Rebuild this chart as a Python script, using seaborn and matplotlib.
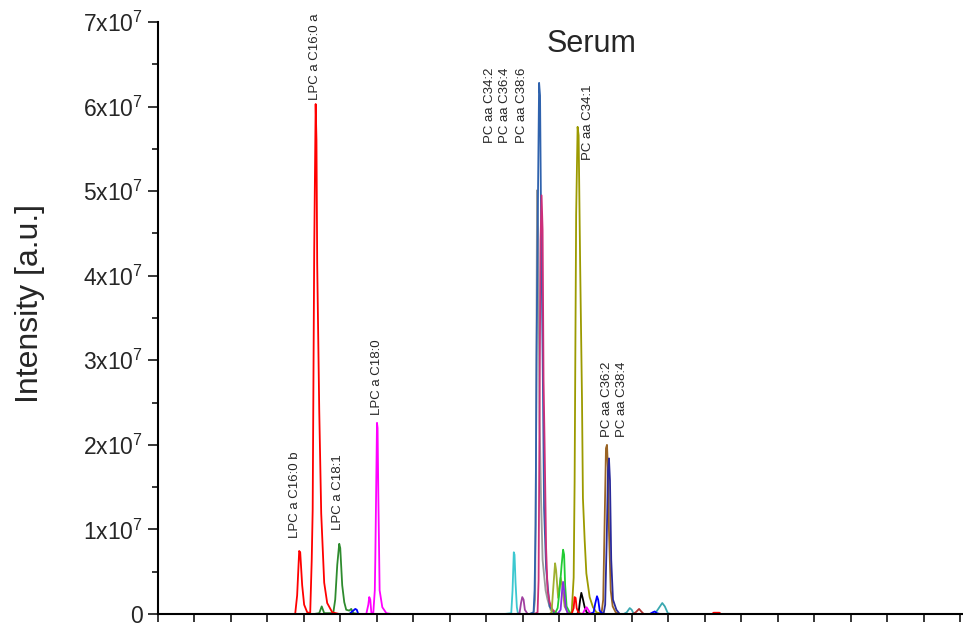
import numpy as np
import pandas as pd
import matplotlib
matplotlib.use('Agg')
import matplotlib.pyplot as plt
from matplotlib.ticker import MultipleLocator
import seaborn as sns

# ==============================
# DATA (time in min, intensity in 1e7 a.u.)
# ==============================
red_t = [0.0, 1.799, 1.882, 1.909, 1.937, 1.951, 1.978, 2.005, 2.047, 2.088, 2.109, 2.122, 2.143, 2.163, 2.174,
         2.184, 2.212, 2.239, 2.280, 2.321, 2.390, 2.486, 5.673, 5.701, 5.714, 5.728, 5.742, 5.769, 5.824,
         7.600, 7.620, 7.700, 7.720, 11.1]
red_i = [0, 0, 0, 0.22, 0.745, 0.73, 0.34, 0.11, 0.02, 0.01, 0.64, 1.23, 4.30, 6.03, 5.60,
         4.15, 2.41, 1.19, 0.37, 0.13, 0.02, 0, 0, 0.07, 0.20, 0.19, 0.07, 0.01, 0,
         0, 0.015, 0.015, 0, 0]

dgreen_t = [0.0, 2.143, 2.212, 2.246, 2.280, 2.404, 2.431, 2.459, 2.486, 2.500, 2.527, 2.555, 2.582, 2.624,
            2.651, 2.679, 2.761, 11.1]
dgreen_i = [0, 0, 0.01, 0.09, 0.01, 0.01, 0.17, 0.58, 0.83, 0.78, 0.34, 0.14, 0.05, 0.04,
            0.06, 0.01, 0, 0]

green_t = [0.0, 5.440, 5.481, 5.508, 5.536, 5.556, 5.570, 5.584, 5.604, 5.646, 5.701, 11.1]
green_i = [0, 0, 0.07, 0.28, 0.58, 0.76, 0.70, 0.34, 0.09, 0.02, 0, 0]

blue_t = [0.0, 2.624, 2.679, 2.706, 2.727, 2.747, 5.920, 5.975, 5.996, 6.021, 6.037, 6.058, 6.099,
          6.745, 6.786, 6.813, 6.841, 6.882, 11.1]
blue_i = [0, 0, 0.04, 0.06, 0.05, 0, 0, 0.02, 0.12, 0.21, 0.17, 0.04, 0,
          0, 0.02, 0.03, 0.01, 0, 0]

magenta_t = [0.0, 2.857, 2.885, 2.898, 2.912, 2.926, 2.953, 2.974, 2.981, 3.004, 3.012, 3.022, 3.040,
             3.077, 3.132, 3.201, 5.824, 5.852, 5.879, 5.907, 5.934, 11.1]
magenta_i = [0, 0, 0.11, 0.20, 0.17, 0.02, 0.01, 0.28, 0.66, 2.26, 2.20, 1.43, 0.28,
             0.08, 0.01, 0, 0, 0.05, 0.08, 0.04, 0, 0]

cyan_t = [0.0, 4.753, 4.845, 4.863, 4.880, 4.890, 4.904, 4.922, 4.936, 4.986, 11.1]
cyan_i = [0, 0, 0.01, 0.28, 0.73, 0.70, 0.37, 0.08, 0.01, 0, 0]

purple_t = [0.0, 4.918, 4.959, 4.979, 4.996, 5.014, 5.032, 5.069, 11.1]
purple_i = [0, 0, 0.01, 0.13, 0.20, 0.17, 0.05, 0, 0]

steel_t = [0.0, 5.096, 5.151, 5.165, 5.179, 5.192, 5.213, 5.227, 5.240, 5.254, 5.275, 5.295, 5.323,
           5.371, 5.440, 5.508, 11.1]
steel_i = [0, 0, 0.02, 0.28, 1.05, 3.03, 5.07, 6.28, 6.13, 4.68, 3.10, 1.25, 0.54,
           0.09, 0.01, 0, 0]

gray_t = [0.0, 5.096, 5.151, 5.172, 5.185, 5.199, 5.213, 5.234, 5.254, 5.275, 5.316, 5.343, 5.385, 5.440, 11.1]
gray_i = [0, 0, 0.01, 0.17, 1.94, 5.01, 4.54, 2.29, 1.35, 0.64, 0.28, 0.17, 0.05, 0, 0]

crimson_t = [0.0, 5.165, 5.206, 5.220, 5.234, 5.247, 5.261, 5.275, 5.288, 5.302, 5.323, 5.343, 5.371,
             5.412, 5.481, 11.1]
crimson_i = [0, 0, 0.02, 0.40, 2.53, 4.42, 4.95, 4.54, 2.77, 2.03, 0.78, 0.28, 0.14,
             0.05, 0, 0]

ygreen_t = [0.0, 5.371, 5.398, 5.419, 5.446, 5.460, 5.488, 5.522, 5.543, 5.577, 5.618, 5.673, 11.1]
ygreen_i = [0, 0, 0.02, 0.28, 0.60, 0.52, 0.19, 0.43, 0.34, 0.09, 0.02, 0, 0]

violet_t = [0.0, 5.481, 5.522, 5.543, 5.556, 5.570, 5.591, 5.618, 5.673, 11.1]
violet_i = [0, 0, 0.05, 0.28, 0.38, 0.28, 0.08, 0.01, 0, 0]

olive_t = [0.0, 5.618, 5.673, 5.701, 5.714, 5.735, 5.755, 5.769, 5.790, 5.815, 5.828, 5.852, 5.875,
           5.920, 5.966, 6.012, 6.085, 11.1]
olive_i = [0, 0, 0.01, 0.43, 1.56, 4.72, 5.76, 5.66, 4.13, 2.55, 1.37, 0.87, 0.48,
           0.20, 0.08, 0.02, 0, 0]

black_t = [0.0, 5.742, 5.769, 5.790, 5.806, 5.824, 5.852, 5.879, 5.920, 11.1]
black_i = [0, 0, 0.02, 0.17, 0.25, 0.19, 0.08, 0.02, 0, 0]

brown_t = [0.0, 6.030, 6.085, 6.106, 6.126, 6.144, 6.158, 6.172, 6.185, 6.209, 6.236, 6.277, 6.332, 11.1]
brown_i = [0, 0, 0.02, 0.17, 1.11, 1.96, 2.00, 1.70, 0.99, 0.28, 0.09, 0.02, 0, 0]

navy_t = [0.0, 6.058, 6.113, 6.133, 6.154, 6.172, 6.185, 6.199, 6.216, 6.240, 6.287, 6.332, 11.1]
navy_i = [0, 0, 0.01, 0.11, 0.87, 1.70, 1.84, 1.58, 0.64, 0.17, 0.05, 0, 0]

teal_t = [0.0, 6.387, 6.429, 6.470, 6.497, 6.525, 6.813, 6.861, 6.916, 6.951, 6.992, 7.033, 11.1]
teal_i = [0, 0, 0.02, 0.07, 0.05, 0, 0, 0.06, 0.13, 0.09, 0.01, 0, 0]

dred_t = [0.0, 6.511, 6.552, 6.598, 6.628, 6.662, 11.1]
dred_i = [0, 0, 0.02, 0.06, 0.03, 0, 0]

# peak labels
label_text = ['LPC a C16:0 b', 'LPC a C16:0 a', 'LPC a C18:1', 'LPC a C18:0',
              'PC aa C34:2', 'PC aa C36:4', 'PC aa C38:6', 'PC aa C34:1',
              'PC aa C36:2', 'PC aa C38:4']
label_t = [1.882, 2.157, 2.473, 3.008, 4.560, 4.766, 4.986, 5.893, 6.154, 6.360]
label_i = [0.90, 6.08, 0.99, 2.35, 5.57, 5.57, 5.57, 5.37, 2.09, 2.09]

# ==============================
# BUILD TABLE
# ==============================
traces = [
    ('gray', gray_t, gray_i, '#9a9a9a'),
    ('steel', steel_t, steel_i, '#2f62ad'),
    ('crimson', crimson_t, crimson_i, '#cc2f7a'),
    ('cyan', cyan_t, cyan_i, '#3cc8d0'),
    ('purple', purple_t, purple_i, '#a040a0'),
    ('ygreen', ygreen_t, ygreen_i, '#a0b030'),
    ('green', green_t, green_i, '#22cc33'),
    ('violet', violet_t, violet_i, '#8a2be2'),
    ('olive', olive_t, olive_i, '#9c9a00'),
    ('black', black_t, black_i, '#000000'),
    ('brown', brown_t, brown_i, '#9a6424'),
    ('navy', navy_t, navy_i, '#2a2a9a'),
    ('teal', teal_t, teal_i, '#3aa8b0'),
    ('dred', dred_t, dred_i, '#b03030'),
    ('dgreen', dgreen_t, dgreen_i, '#2e8b2e'),
    ('blue', blue_t, blue_i, '#0000ff'),
    ('red', red_t, red_i, '#ff0000'),
    ('magenta', magenta_t, magenta_i, '#ff00ff'),
]

rows = []
for name, t, i, c in traces:
    for tt, ii in zip(t, i):
        rows.append((name, tt, ii * 1e7))
df = pd.DataFrame(rows, columns=['trace', 'time', 'intensity'])
palette = {name: c for name, _, _, c in traces}

# ==============================
# PLOT
# ==============================
sns.set_style('ticks')
plt.rcParams['font.family'] = ['Liberation Sans', 'DejaVu Sans']
plt.rcParams['mathtext.fontset'] = 'custom'
plt.rcParams['mathtext.rm'] = 'Liberation Sans'
plt.rcParams['mathtext.default'] = 'regular'

fig = plt.figure(figsize=(9.63, 6.25), dpi=100)
ax = fig.add_axes([0.164, 0.0176, 0.836, 0.9472])

for name, _, _, _ in traces:
    sns.lineplot(data=df[df['trace'] == name], x='time', y='intensity',
                 color=palette[name], lw=1.3, estimator=None, sort=False,
                 legend=False, ax=ax)

for txt, tx, ty in zip(label_text, label_t, label_i):
    ax.text(tx, ty * 1e7, txt, rotation=90, ha='center', va='bottom', fontsize=9.5)

ax.text(5.95, 6.74e7, 'Serum', ha='center', va='center', fontsize=22)

ax.set_xlim(0, 11.04)
ax.set_ylim(0, 7e7)
ax.xaxis.set_major_locator(MultipleLocator(0.5))
ax.set_yticks(np.arange(0, 8) * 1e7,
              ['0'] + [f'{k}x10$^{{7}}$' for k in range(1, 8)])
ax.yaxis.set_minor_locator(MultipleLocator(0.5e7))
ax.tick_params(axis='x', direction='out', length=6, width=1.3, labelbottom=False)
ax.tick_params(axis='y', which='major', direction='out', length=7, width=1.3, labelsize=16.5, pad=4)
ax.tick_params(axis='y', which='minor', direction='out', length=4, width=1.3)
ax.set_xlabel('')
ax.set_ylabel('Intensity [a.u.]', fontsize=23)
ax.yaxis.set_label_coords(-0.14, 0.525)

sns.despine(ax=ax)
for side in ['left', 'bottom']:
    ax.spines[side].set_linewidth(1.5)
    ax.spines[side].set_color('black')

plt.savefig('out.png', dpi=100, facecolor='white')
plt.close()
